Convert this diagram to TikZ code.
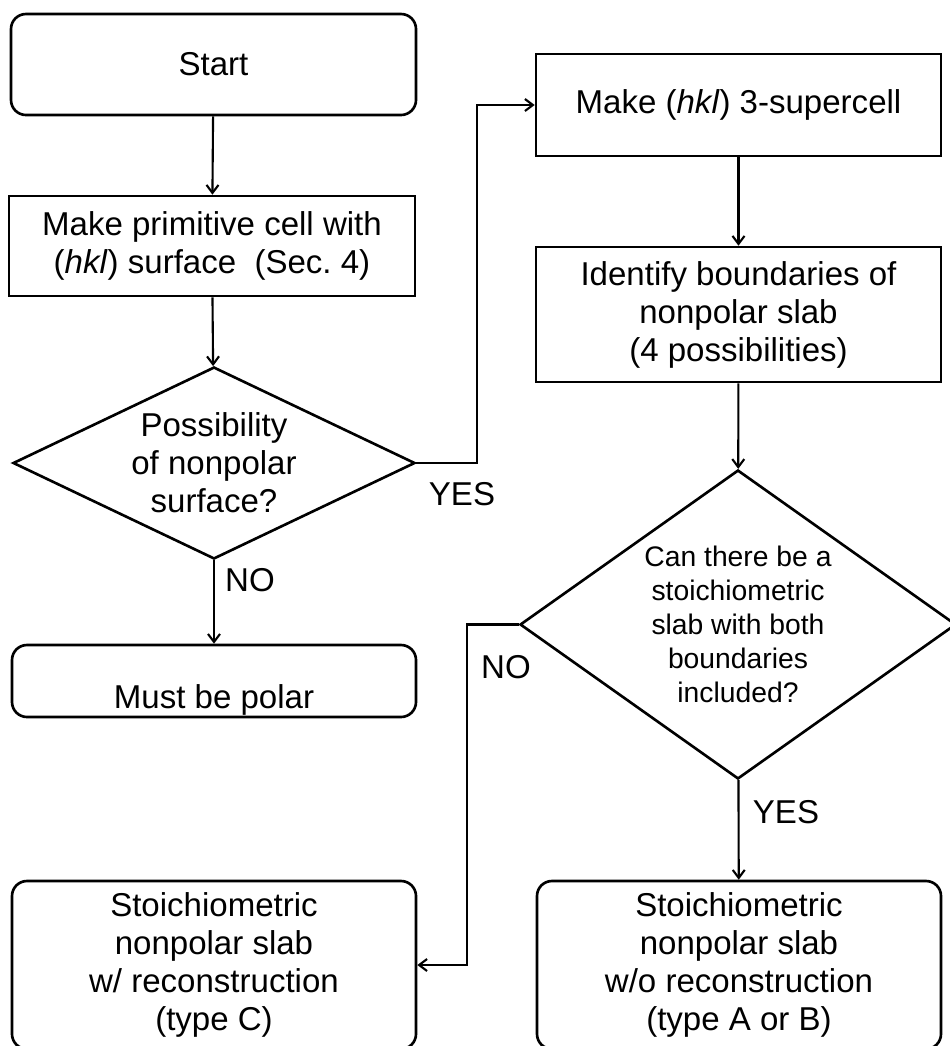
\documentclass[tikz,border=0pt]{standalone}
\usepackage{fontspec}
\setmainfont{Liberation Sans}
\usepackage{tikz}
\usetikzlibrary{arrows.meta}
\usetikzlibrary{shapes.geometric}
\usetikzlibrary{positioning}

\begin{document}
\begin{tikzpicture}
        \tikzset{every node/.style={align=center, inner sep=0pt,
                    font={\fontsize{18.8}{21.6}\selectfont}},
                box/.style={rectangle, draw, line width=1.5pt},
                rbox/.style={box, rounded corners=0.3cm},
                decision/.style={diamond, draw, line width=1.5pt},
                >={Straight Barb[length=1.6mm, width=2.4mm]},
                every edge/.style={draw=black, line width=1.2pt}}

        \useasboundingbox (0, 0) rectangle (18.98, -20.92);

        \node[rbox, minimum width=8.10cm, minimum height=2.02cm] (1) at (4.27, -1.29) {Start};
        \node[box, minimum width=8.12cm, minimum height=2.00cm] (2) at (4.24, -4.92) {Make primitive cell with\\(\textit{hkl}) surface~~(Sec.~4)};
        \node[decision, aspect=2.09, minimum width=8.04cm, minimum height=3.84cm] (3) at (4.28, -9.26) {Possibility\\of nonpolar\\surface?};
        \node[rbox, minimum width=8.08cm, minimum height=1.44cm, text height=1.22cm, text depth=0.14cm] (4) at (4.28, -13.62) {Must be polar};
        \node[box, minimum width=8.10cm, minimum height=2.04cm] (5) at (14.77, -2.10) {Make (\textit{hkl}) 3-supercell};
        \node[box, minimum width=8.10cm, minimum height=2.70cm] (6) at (14.77, -6.29) {Identify boundaries of\\nonpolar slab\\(4 possibilities)};
        \node[decision, aspect=1.41, minimum width=8.72cm, minimum height=6.18cm,
              font={\fontsize{16.1}{19.35}\selectfont}] (7) at (14.76, -12.49) {Can there be a\\stoichiometric\\slab with both\\boundaries\\included?};
        \node[rbox, minimum width=8.08cm, minimum height=3.36cm] (8) at (4.28, -19.30) {Stoichiometric\\nonpolar slab\\w/ reconstruction\\(type C)};
        \node[rbox, minimum width=8.08cm, minimum height=3.36cm] (9) at (14.78, -19.30) {Stoichiometric\\nonpolar slab\\w/o reconstruction\\(type A or B)};

        \node (yes1) at (9.24, -9.88) {YES};
        \node (no1) at (5.00, -11.60) {NO};
        \node (no2) at (10.12, -13.34) {NO};
        \node (yes2) at (15.72, -16.24) {YES};

        \path [->] (1) edge node {} (2);
        \path [->] (2) edge node {} (3);
        \path [->] (3) edge node {} (4);
        \path [->] (5) edge node {} (6);
        \path [->] (6) edge node {} (7);
        \path [->] (7) edge node {} (9);
        \draw [->, line width=1.2pt] (3.east) -- ++(1.22, 0) |- (5.west);
        \draw [->, line width=1.2pt] (7.west) -- ++(-1.04, 0) |- (8.east);

    \end{tikzpicture}
\end{document}
